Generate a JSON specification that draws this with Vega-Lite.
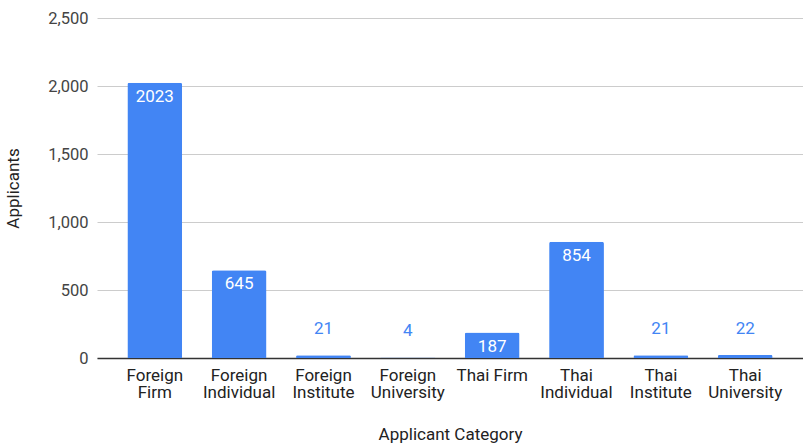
{
  "$schema": "https://vega.github.io/schema/vega-lite/v6.json",
  "width": 706,
  "height": 340,
  "autosize": "none",
  "padding": {"left": 97, "top": 18, "right": 0, "bottom": 88},
  "background": "white",
  "config": {
    "view": {"stroke": null},
    "font": "Roboto",
    "axis": {"labelFont": "Roboto", "titleFont": "Roboto", "labelFontSize": 16.5, "titleFontSize": 17, "titleFontWeight": "normal", "labelColor": "#444444", "titleColor": "#222222"}
  },
  "data": {
    "values": [
      {"category": "Foreign Firm", "applicants": 2023},
      {"category": "Foreign Individual", "applicants": 645},
      {"category": "Foreign Institute", "applicants": 21},
      {"category": "Foreign University", "applicants": 4},
      {"category": "Thai Firm", "applicants": 187},
      {"category": "Thai Individual", "applicants": 854},
      {"category": "Thai Institute", "applicants": 21},
      {"category": "Thai University", "applicants": 22}
    ]
  },
  "encoding": {
    "x": {
      "field": "category", "type": "nominal", "sort": null,
      "scale": {"paddingInner": 0.35, "paddingOuter": 0.36},
      "axis": {
        "title": "Applicant Category",
        "labelAngle": 0,
        "labelColor": "#222222",
        "labelFontSize": 17,
        "labelExpr": "datum.label == 'Thai Firm' ? datum.label : split(datum.label, ' ')",
        "labelLineHeight": 17,
        "labelPadding": 9,
        "labelOverlap": false,
        "ticks": false,
        "domainColor": "#333333",
        "domainWidth": 1.5,
        "titlePadding": 26
      }
    },
    "y": {
      "field": "applicants", "type": "quantitative",
      "scale": {"domain": [0, 2500]},
      "axis": {
        "title": "Applicants",
        "values": [0, 500, 1000, 1500, 2000, 2500],
        "format": ",d",
        "labelOverlap": false,
        "labelBound": false,
        "domain": false,
        "ticks": false,
        "labelPadding": 9,
        "gridColor": "#cccccc",
        "titlePadding": 25
      }
    }
  },
  "layer": [
    {"mark": {"type": "bar", "color": "#4285F4", "cornerRadiusTopLeft": 2, "cornerRadiusTopRight": 2}},
    {
      "transform": [{"filter": "datum.applicants >= 100"}],
      "mark": {"type": "text", "color": "white", "fontSize": 17, "baseline": "top", "dy": 6},
      "encoding": {"text": {"field": "applicants", "type": "quantitative", "format": "d"}}
    },
    {
      "transform": [{"filter": "datum.applicants < 100"}],
      "mark": {"type": "text", "color": "#4285F4", "fontSize": 17, "baseline": "bottom", "dy": -17},
      "encoding": {"text": {"field": "applicants", "type": "quantitative", "format": "d"}}
    }
  ]
}
